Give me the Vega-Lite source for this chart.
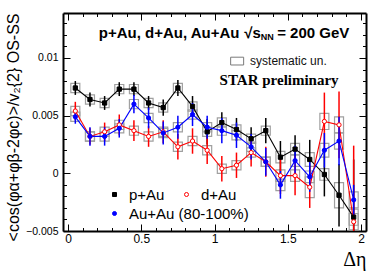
{
  "$schema": "https://vega.github.io/schema/vega-lite/v6.json",
  "autosize": "none",
  "padding": {"left": 63, "top": 13, "right": 16, "bottom": 43},
  "width": 303,
  "height": 218,
  "background": "white",
  "config": {
    "font": "Liberation Sans",
    "view": {"stroke": null},
    "axis": {"labelFont": "Liberation Sans", "titleFont": "Liberation Sans", "labelColor": "black", "titleColor": "black", "domainColor": "black", "tickColor": "black", "grid": false}
  },
  "datasets": {
    "pts": [
      {"s": "p+Au", "eta": 0.05, "v": 0.0074, "err": 0.0006, "lo": 0.0070, "hi": 0.0078},
      {"s": "p+Au", "eta": 0.15, "v": 0.0064, "err": 0.0006, "lo": 0.0060, "hi": 0.0068},
      {"s": "p+Au", "eta": 0.25, "v": 0.0061, "err": 0.0006, "lo": 0.0057, "hi": 0.0065},
      {"s": "p+Au", "eta": 0.35, "v": 0.0073, "err": 0.0006, "lo": 0.0069, "hi": 0.0077},
      {"s": "p+Au", "eta": 0.45, "v": 0.0073, "err": 0.0006, "lo": 0.0069, "hi": 0.0077},
      {"s": "p+Au", "eta": 0.55, "v": 0.0061, "err": 0.0006, "lo": 0.0057, "hi": 0.0065},
      {"s": "p+Au", "eta": 0.65, "v": 0.0057, "err": 0.0007, "lo": 0.0053, "hi": 0.0061},
      {"s": "p+Au", "eta": 0.75, "v": 0.0074, "err": 0.0007, "lo": 0.0070, "hi": 0.0078},
      {"s": "p+Au", "eta": 0.85, "v": 0.0058, "err": 0.0009, "lo": 0.0054, "hi": 0.0062},
      {"s": "p+Au", "eta": 0.95, "v": 0.0036, "err": 0.0011, "lo": 0.0032, "hi": 0.0040},
      {"s": "p+Au", "eta": 1.05, "v": 0.0044, "err": 0.0009, "lo": 0.0040, "hi": 0.0048},
      {"s": "p+Au", "eta": 1.15, "v": 0.0038, "err": 0.0010, "lo": 0.0034, "hi": 0.0042},
      {"s": "p+Au", "eta": 1.25, "v": 0.0030, "err": 0.0010, "lo": 0.0026, "hi": 0.0034},
      {"s": "p+Au", "eta": 1.35, "v": 0.0037, "err": 0.0011, "lo": 0.0033, "hi": 0.0041},
      {"s": "p+Au", "eta": 1.45, "v": 0.0014, "err": 0.0014, "lo": 0.0009, "hi": 0.0019},
      {"s": "p+Au", "eta": 1.55, "v": 0.0021, "err": 0.0012, "lo": 0.0016, "hi": 0.0026},
      {"s": "p+Au", "eta": 1.65, "v": 0.0012, "err": 0.0017, "lo": 0.0006, "hi": 0.0018},
      {"s": "p+Au", "eta": 1.75, "v": -0.0001, "err": 0.0019, "lo": -0.0006, "hi": 0.0004},
      {"s": "p+Au", "eta": 1.85, "v": -0.0019, "err": 0.0027, "lo": -0.0030, "hi": -0.0008},
      {"s": "p+Au", "eta": 1.95, "v": -0.0038, "err": 0.0050, "lo": -0.0045, "hi": -0.0031},
      {"s": "d+Au", "eta": 0.05, "v": 0.0054, "err": 0.0008, "lo": 0.0050, "hi": 0.0058},
      {"s": "d+Au", "eta": 0.15, "v": 0.0032, "err": 0.0007, "lo": 0.0028, "hi": 0.0036},
      {"s": "d+Au", "eta": 0.25, "v": 0.0036, "err": 0.0008, "lo": 0.0032, "hi": 0.0040},
      {"s": "d+Au", "eta": 0.35, "v": 0.0042, "err": 0.0009, "lo": 0.0038, "hi": 0.0046},
      {"s": "d+Au", "eta": 0.45, "v": 0.0037, "err": 0.0009, "lo": 0.0033, "hi": 0.0041},
      {"s": "d+Au", "eta": 0.55, "v": 0.0032, "err": 0.0009, "lo": 0.0028, "hi": 0.0036},
      {"s": "d+Au", "eta": 0.65, "v": 0.0036, "err": 0.0010, "lo": 0.0032, "hi": 0.0040},
      {"s": "d+Au", "eta": 0.75, "v": 0.0023, "err": 0.0011, "lo": 0.0019, "hi": 0.0027},
      {"s": "d+Au", "eta": 0.85, "v": 0.0028, "err": 0.0011, "lo": 0.0024, "hi": 0.0032},
      {"s": "d+Au", "eta": 0.95, "v": 0.0020, "err": 0.0012, "lo": 0.0016, "hi": 0.0024},
      {"s": "d+Au", "eta": 1.05, "v": 0.0004, "err": 0.0011, "lo": 0.0000, "hi": 0.0008},
      {"s": "d+Au", "eta": 1.15, "v": 0.0007, "err": 0.0011, "lo": 0.0003, "hi": 0.0011},
      {"s": "d+Au", "eta": 1.25, "v": 0.0018, "err": 0.0012, "lo": 0.0014, "hi": 0.0022},
      {"s": "d+Au", "eta": 1.35, "v": 0.0010, "err": 0.0013, "lo": 0.0006, "hi": 0.0014},
      {"s": "d+Au", "eta": 1.45, "v": -0.0002, "err": 0.0016, "lo": -0.0007, "hi": 0.0003},
      {"s": "d+Au", "eta": 1.55, "v": -0.0002, "err": 0.0017, "lo": -0.0007, "hi": 0.0003},
      {"s": "d+Au", "eta": 1.65, "v": -0.0012, "err": 0.0018, "lo": -0.0021, "hi": -0.0003},
      {"s": "d+Au", "eta": 1.75, "v": 0.0045, "err": 0.0025, "lo": 0.0038, "hi": 0.0052},
      {"s": "d+Au", "eta": 1.85, "v": 0.0042, "err": 0.0029, "lo": 0.0035, "hi": 0.0049},
      {"s": "d+Au", "eta": 1.95, "v": -0.0042, "err": 0.0066, "lo": -0.0049, "hi": -0.0035},
      {"s": "Au+Au (80-100%)", "eta": 0.05, "v": 0.0049, "err": 0.0006, "lo": 0.0045, "hi": 0.0053},
      {"s": "Au+Au (80-100%)", "eta": 0.15, "v": 0.0032, "err": 0.0008, "lo": 0.0028, "hi": 0.0036},
      {"s": "Au+Au (80-100%)", "eta": 0.25, "v": 0.0032, "err": 0.0008, "lo": 0.0028, "hi": 0.0036},
      {"s": "Au+Au (80-100%)", "eta": 0.35, "v": 0.0039, "err": 0.0008, "lo": 0.0035, "hi": 0.0043},
      {"s": "Au+Au (80-100%)", "eta": 0.45, "v": 0.0060, "err": 0.0008, "lo": 0.0056, "hi": 0.0064},
      {"s": "Au+Au (80-100%)", "eta": 0.55, "v": 0.0048, "err": 0.0009, "lo": 0.0044, "hi": 0.0052},
      {"s": "Au+Au (80-100%)", "eta": 0.65, "v": 0.0035, "err": 0.0010, "lo": 0.0031, "hi": 0.0039},
      {"s": "Au+Au (80-100%)", "eta": 0.75, "v": 0.0040, "err": 0.0010, "lo": 0.0036, "hi": 0.0044},
      {"s": "Au+Au (80-100%)", "eta": 0.85, "v": 0.0051, "err": 0.0010, "lo": 0.0047, "hi": 0.0055},
      {"s": "Au+Au (80-100%)", "eta": 0.95, "v": 0.0040, "err": 0.0010, "lo": 0.0036, "hi": 0.0044},
      {"s": "Au+Au (80-100%)", "eta": 1.05, "v": 0.0037, "err": 0.0011, "lo": 0.0033, "hi": 0.0041},
      {"s": "Au+Au (80-100%)", "eta": 1.15, "v": 0.0033, "err": 0.0011, "lo": 0.0029, "hi": 0.0037},
      {"s": "Au+Au (80-100%)", "eta": 1.25, "v": 0.0023, "err": 0.0011, "lo": 0.0019, "hi": 0.0027},
      {"s": "Au+Au (80-100%)", "eta": 1.35, "v": 0.0010, "err": 0.0012, "lo": 0.0006, "hi": 0.0014},
      {"s": "Au+Au (80-100%)", "eta": 1.45, "v": -0.0010, "err": 0.0012, "lo": -0.0015, "hi": -0.0005},
      {"s": "Au+Au (80-100%)", "eta": 1.55, "v": 0.0011, "err": 0.0013, "lo": 0.0006, "hi": 0.0016},
      {"s": "Au+Au (80-100%)", "eta": 1.65, "v": -0.0003, "err": 0.0013, "lo": -0.0008, "hi": 0.0002},
      {"s": "Au+Au (80-100%)", "eta": 1.75, "v": 0.0020, "err": 0.0015, "lo": 0.0014, "hi": 0.0026},
      {"s": "Au+Au (80-100%)", "eta": 1.85, "v": 0.0028, "err": 0.0021, "lo": 0.0021, "hi": 0.0035},
      {"s": "Au+Au (80-100%)", "eta": 1.95, "v": -0.0023, "err": 0.0013, "lo": -0.0030, "hi": -0.0016}
    ]
  },
  "layer": [
    {
      "data": {"name": "pts"},
      "mark": {"type": "bar", "width": 9, "fill": "transparent", "stroke": "#a0a0a0", "strokeWidth": 1.2, "clip": true},
      "encoding": {
        "x": {"field": "eta", "type": "quantitative", "scale": {"domain": [0, 2], "nice": false, "zero": false},
          "axis": {"orient": "bottom", "values": [0,0.1,0.2,0.3,0.4,0.5,0.6,0.7,0.8,0.9,1,1.1,1.2,1.3,1.4,1.5,1.6,1.7,1.8,1.9,2], "format": "~g",
            "labelExpr": "abs(datum.value*2-round(datum.value*2))<0.001 ? datum.label : ''",
            "labelFontSize": 12, "labelPadding": 9, "labelOverlap": false, "labelFlush": false,
            "tickSize": {"condition": {"test": "abs(datum.value*2-round(datum.value*2))<0.001", "value": -7}, "value": -3.5},
            "domainWidth": 2, "title": "Δη", "titleFont": "Liberation Serif", "titleFontSize": 20, "titleFontWeight": "normal", "titleAnchor": "end", "titlePadding": 2}},
        "y": {"field": "lo", "type": "quantitative", "scale": {"domain": [-0.005, 0.0139], "nice": false, "zero": false, "clamp": true},
          "axis": {"orient": "left", "values": [-0.005,-0.004,-0.003,-0.002,-0.001,0,0.001,0.002,0.003,0.004,0.005,0.006,0.007,0.008,0.009,0.01,0.011,0.012,0.013], "format": "~g",
            "labelExpr": "abs(datum.value*200-round(datum.value*200))<0.01 ? datum.label : ''",
            "labelFontSize": 10.5, "labelPadding": 12, "labelOverlap": false, "labelFlush": false,
            "tickSize": {"condition": {"test": "abs(datum.value*200-round(datum.value*200))<0.01", "value": -7}, "value": -3.5},
            "domainWidth": 2, "title": "<cos(φα+φβ-2φc)>/v₂{2} OS-SS", "titleFontSize": 16, "titleFontWeight": "normal", "titleAnchor": "end", "titlePadding": 4}},
        "y2": {"field": "hi"}
      }
    },
    {
      "mark": {"type": "rule", "color": "#8c8cff", "strokeWidth": 2, "strokeDash": [13, 6], "opacity": 0.8},
      "encoding": {"y": {"datum": 0, "type": "quantitative", "scale": {"domain": [-0.005, 0.0139], "nice": false, "zero": false, "clamp": true}, "axis": null}}
    },
    {
      "data": {"name": "pts"},
      "mark": {"type": "line", "strokeWidth": 1.1, "clip": true},
      "encoding": {
        "x": {"field": "eta", "type": "quantitative", "scale": {"domain": [0, 2], "nice": false, "zero": false},
          "axis": {"orient": "top", "values": [0,0.1,0.2,0.3,0.4,0.5,0.6,0.7,0.8,0.9,1,1.1,1.2,1.3,1.4,1.5,1.6,1.7,1.8,1.9,2], "labels": false, "title": null, "domainWidth": 2,
            "tickSize": {"condition": {"test": "abs(datum.value*2-round(datum.value*2))<0.001", "value": -7}, "value": -3.5}}},
        "y": {"field": "v", "type": "quantitative", "scale": {"domain": [-0.005, 0.0139], "nice": false, "zero": false, "clamp": true},
          "axis": {"orient": "right", "values": [-0.005,-0.004,-0.003,-0.002,-0.001,0,0.001,0.002,0.003,0.004,0.005,0.006,0.007,0.008,0.009,0.01,0.011,0.012,0.013], "labels": false, "title": null, "domainWidth": 2,
            "tickSize": {"condition": {"test": "abs(datum.value*200-round(datum.value*200))<0.01", "value": -7}, "value": -3.5}}},
        "detail": {"field": "s", "type": "nominal"},
        "color": {"condition": [{"test": "datum.s === 'p+Au'", "value": "#000000"}, {"test": "datum.s === 'd+Au'", "value": "#ff0000"}], "value": "#0000ff"},
        "order": {"field": "eta"}
      }
    },
    {
      "data": {"name": "pts"},
      "mark": {"type": "errorbar", "thickness": 1.5, "ticks": false},
      "encoding": {
        "x": {"field": "eta", "type": "quantitative", "scale": {"domain": [0, 2], "nice": false, "zero": false}, "axis": null},
        "y": {"field": "v", "type": "quantitative", "scale": {"domain": [-0.005, 0.0139], "nice": false, "zero": false, "clamp": true}, "axis": null},
        "yError": {"field": "err"},
        "detail": {"field": "s", "type": "nominal"},
        "color": {"condition": [{"test": "datum.s === 'p+Au'", "value": "#000000"}, {"test": "datum.s === 'd+Au'", "value": "#ff0000"}], "value": "#0000ff"}
      }
    },
    {
      "data": {"name": "pts"},
      "mark": {"type": "point", "size": 18, "strokeWidth": 1, "opacity": 1, "clip": true},
      "encoding": {
        "x": {"field": "eta", "type": "quantitative", "scale": {"domain": [0, 2], "nice": false, "zero": false}, "axis": null},
        "y": {"field": "v", "type": "quantitative", "scale": {"domain": [-0.005, 0.0139], "nice": false, "zero": false, "clamp": true}, "axis": null},
        "color": {"field": "s", "type": "nominal", "scale": {"domain": ["p+Au", "d+Au", "Au+Au (80-100%)"], "range": ["#000000", "#ff0000", "#0000ff"]},
          "legend": {"orient": "none", "legendX": 44, "legendY": 174, "direction": "horizontal", "title": null, "columns": 2, "gridAlign": "none", "columnPadding": -70, "rowPadding": 3, "labelFontSize": 15, "labelFont": "Liberation Sans", "labelColor": "black", "labelOffset": 7, "symbolSize": 16, "symbolStrokeWidth": 1, "padding": 0}},
        "shape": {"field": "s", "type": "nominal", "scale": {"domain": ["p+Au", "d+Au", "Au+Au (80-100%)"], "range": ["square", "circle", "circle"]},
          "legend": {"orient": "none", "legendX": 44, "legendY": 174, "direction": "horizontal", "title": null, "columns": 2, "gridAlign": "none", "columnPadding": -70, "rowPadding": 3, "labelFontSize": 15, "labelFont": "Liberation Sans", "labelColor": "black", "labelOffset": 7, "symbolSize": 16, "symbolStrokeWidth": 1, "padding": 0}},
        "fill": {"field": "s", "type": "nominal", "scale": {"domain": ["p+Au", "d+Au", "Au+Au (80-100%)"], "range": ["#000000", "#ffffff", "#0000ff"]},
          "legend": {"orient": "none", "legendX": 44, "legendY": 174, "direction": "horizontal", "title": null, "columns": 2, "gridAlign": "none", "columnPadding": -70, "rowPadding": 3, "labelFontSize": 15, "labelFont": "Liberation Sans", "labelColor": "black", "labelOffset": 7, "symbolSize": 16, "symbolStrokeWidth": 1, "padding": 0}}
      }
    },
    {
      "data": {"values": [{"x": 0.2105, "y": 0.01216, "t": "p+Au, d+Au, Au+Au"}, {"x": 1.2026, "y": 0.01216, "t": "√s"}, {"x": 1.4276, "y": 0.01216, "t": "= 200 GeV"}]},
      "mark": {"type": "text", "align": "left", "baseline": "middle", "fontSize": 15, "fontWeight": "bold", "font": "Liberation Sans", "color": "black"},
      "encoding": {
        "x": {"field": "x", "type": "quantitative", "scale": {"domain": [0, 2], "nice": false, "zero": false}, "axis": null},
        "y": {"field": "y", "type": "quantitative", "scale": {"domain": [-0.005, 0.0139], "nice": false, "zero": false, "clamp": true}, "axis": null},
        "text": {"field": "t"}
      }
    },
    {
      "data": {"values": [{"x": 1.316, "y": 0.0118, "t": "NN"}]},
      "mark": {"type": "text", "align": "left", "baseline": "middle", "fontSize": 9, "fontWeight": "bold", "font": "Liberation Sans", "color": "black"},
      "encoding": {
        "x": {"field": "x", "type": "quantitative", "scale": {"domain": [0, 2], "nice": false, "zero": false}, "axis": null},
        "y": {"field": "y", "type": "quantitative", "scale": {"domain": [-0.005, 0.0139], "nice": false, "zero": false, "clamp": true}, "axis": null},
        "text": {"field": "t"}
      }
    },
    {
      "data": {"values": [{"x": 1.243, "y": 0.0097, "t": "systematic un."}]},
      "mark": {"type": "text", "align": "left", "baseline": "middle", "fontSize": 12, "font": "Liberation Sans", "color": "#111111"},
      "encoding": {
        "x": {"field": "x", "type": "quantitative", "scale": {"domain": [0, 2], "nice": false, "zero": false}, "axis": null},
        "y": {"field": "y", "type": "quantitative", "scale": {"domain": [-0.005, 0.0139], "nice": false, "zero": false, "clamp": true}, "axis": null},
        "text": {"field": "t"}
      }
    },
    {
      "data": {"values": [{"x": 1.1546, "y": 0.00973}]},
      "mark": {"type": "point", "shape": "M -1 -0.6 H 1 V 0.6 H -1 Z", "size": 169, "filled": false, "stroke": "#7a7a7a", "strokeWidth": 1, "opacity": 1},
      "encoding": {
        "x": {"field": "x", "type": "quantitative", "scale": {"domain": [0, 2], "nice": false, "zero": false}, "axis": null},
        "y": {"field": "y", "type": "quantitative", "scale": {"domain": [-0.005, 0.0139], "nice": false, "zero": false, "clamp": true}, "axis": null}
      }
    },
    {
      "data": {"values": [{"x": 1.441, "y": 0.00808, "t": "STAR preliminary"}]},
      "mark": {"type": "text", "align": "center", "baseline": "middle", "fontSize": 15, "fontWeight": "bold", "font": "Liberation Serif", "color": "black"},
      "encoding": {
        "x": {"field": "x", "type": "quantitative", "scale": {"domain": [0, 2], "nice": false, "zero": false}, "axis": null},
        "y": {"field": "y", "type": "quantitative", "scale": {"domain": [-0.005, 0.0139], "nice": false, "zero": false, "clamp": true}, "axis": null},
        "text": {"field": "t"}
      }
    }
  ]
}
